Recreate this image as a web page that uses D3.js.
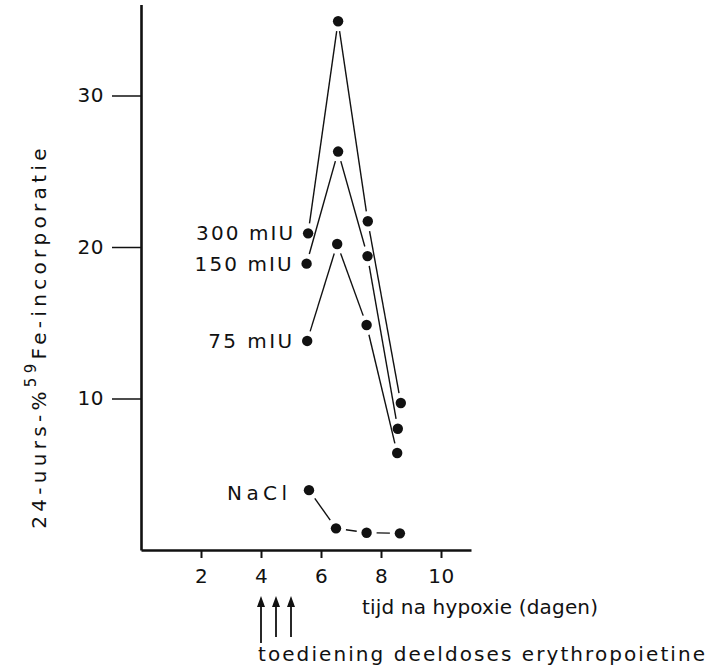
<!DOCTYPE html>
<html>
<head>
<meta charset="utf-8">
<script src="https://cdn.jsdelivr.net/npm/d3@7"></script>
<style>
  html, body { margin: 0; padding: 0; background: #fff; }
  svg { display: block; }
  text { font-family: "DejaVu Sans", sans-serif; fill: #111; }
</style>
</head>
<body>
<svg id="chart" width="708" height="671"></svg>
<script>
// ---- data ----
const seriesNames = ["300 mIU", "150 mIU", "75 mIU", "NaCl"];
const days300 = [5.57, 6.57, 7.56, 8.66];
const vals300 = [20.9, 34.9, 21.7, 9.7];
const days150 = [5.52, 6.57, 7.55, 8.56];
const vals150 = [18.9, 26.3, 19.4, 8.0];
const days75 = [5.54, 6.54, 7.52, 8.54];
const vals75 = [13.8, 20.2, 14.85, 6.4];
const daysNaCl = [5.6, 6.5, 7.52, 8.63];
const valsNaCl = [3.95, 1.43, 1.14, 1.1];
const xTicks = [2, 4, 6, 8, 10];
const yTicks = [10, 20, 30];
const doseDays = [4, 4.5, 5];
const xTitle = "tijd na hypoxie (dagen)";
const doseTitle = "toediening deeldoses erythropoietine";

const series = [
  { name: seriesNames[0], days: days300, vals: vals300 },
  { name: seriesNames[1], days: days150, vals: vals150 },
  { name: seriesNames[2], days: days75, vals: vals75 },
  { name: seriesNames[3], days: daysNaCl, vals: valsNaCl }
];

const svg = d3.select("#chart");
const x = d3.scaleLinear().domain([0, 11]).range([141, 471]);
const y = d3.scaleLinear().domain([0, 36]).range([550, 4.6]);

// axes
const yAxis = d3.axisLeft(y).tickValues(yTicks).tickSize(29).tickPadding(8).tickSizeOuter(0);
const gy = svg.append("g").attr("transform", `translate(${x(0)},0)`).call(yAxis);
gy.select(".domain").attr("stroke", "#111").attr("stroke-width", 2.6);
gy.selectAll(".tick line").attr("stroke", "#111").attr("stroke-width", 1.5);
gy.selectAll(".tick text").attr("font-size", 20).attr("font-family", "DejaVu Sans").attr("fill", "#111").attr("letter-spacing", 0.5);

const xAxis = d3.axisBottom(x).tickValues(xTicks).tickSize(8).tickPadding(11).tickSizeOuter(0);
const gx = svg.append("g").attr("transform", `translate(0,${y(0)})`).call(xAxis);
gx.select(".domain").attr("stroke", "#111").attr("stroke-width", 2.6);
gx.selectAll(".tick line").attr("stroke", "#111").attr("stroke-width", 2);
gx.selectAll(".tick text").attr("font-size", 20).attr("font-family", "DejaVu Sans").attr("fill", "#111").attr("letter-spacing", 0.5);

// lines with gaps around the dots
const gap = 10;
const gLines = svg.append("g");
series.forEach(s => {
  for (let i = 0; i < s.days.length - 1; i++) {
    const x1 = x(s.days[i]), y1 = y(s.vals[i]);
    const x2 = x(s.days[i + 1]), y2 = y(s.vals[i + 1]);
    const len = Math.hypot(x2 - x1, y2 - y1);
    const ux = (x2 - x1) / len, uy = (y2 - y1) / len;
    gLines.append("line")
      .attr("x1", x1 + ux * gap).attr("y1", y1 + uy * gap)
      .attr("x2", x2 - ux * gap).attr("y2", y2 - uy * gap)
      .attr("stroke", "#111").attr("stroke-width", 1.4);
  }
});

// dots
series.forEach(s => {
  svg.append("g").selectAll("circle")
    .data(s.days.map((d, i) => [d, s.vals[i]]))
    .join("circle")
    .attr("cx", d => x(d[0])).attr("cy", d => y(d[1]))
    .attr("r", 5.2).attr("fill", "#111");
});

// series labels
const labelWidths = [97, 97, 84, 60];
const labelDx = [15, 15, 15, 22];
series.forEach((s, i) => {
  svg.append("text")
    .attr("x", x(s.days[0]) - labelDx[i])
    .attr("y", y(s.vals[0]) + 7 + (i === 3 ? 3 : 0))
    .attr("text-anchor", "end")
    .attr("font-size", 20)
    .attr("textLength", labelWidths[i])
    .attr("lengthAdjust", "spacing")
    .text(s.name);
});

// y axis title
const yt = svg.append("text")
  .attr("transform", `translate(46,${(140 + 533) / 2}) rotate(-90)`)
  .attr("text-anchor", "middle")
  .attr("font-size", 20)
  .attr("letter-spacing", 4.3);
yt.append("tspan").text("24-uurs-%");
yt.append("tspan").attr("dy", -10).attr("font-size", 15).text("59");
yt.append("tspan").attr("dy", 10).text("Fe-incorporatie");

// x axis title
svg.append("text")
  .attr("x", 362).attr("y", 614)
  .attr("font-size", 20)
  .attr("textLength", 236).attr("lengthAdjust", "spacing")
  .text(xTitle);

// dose arrows
const arrows = svg.append("g");
doseDays.forEach((d, i) => {
  const ax = x(d);
  arrows.append("line")
    .attr("x1", ax).attr("x2", ax)
    .attr("y1", 604).attr("y2", i === 0 ? 643 : 637)
    .attr("stroke", "#111").attr("stroke-width", 1.8);
  arrows.append("path")
    .attr("d", `M${ax},596 L${ax - 4},607 L${ax + 4},607 Z`)
    .attr("fill", "#111");
});

svg.append("text")
  .attr("x", 258).attr("y", 661)
  .attr("font-size", 20)
  .attr("textLength", 447).attr("lengthAdjust", "spacing")
  .text(doseTitle);
</script>
</body>
</html>
